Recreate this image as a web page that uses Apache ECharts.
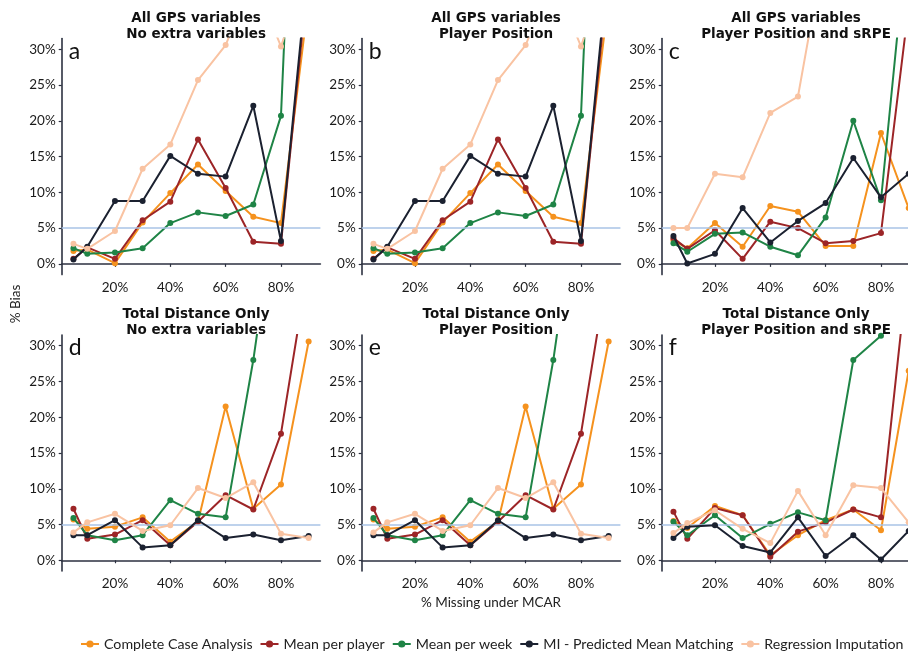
<!DOCTYPE html>
<html>
<head>
<meta charset="utf-8">
<script src="https://cdn.jsdelivr.net/npm/echarts@6/dist/echarts.min.js"></script>
<style>
  html, body { margin: 0; padding: 0; background: #fff; }
  #chart { width: 908px; height: 652px; }
</style>
</head>
<body>
<div id="chart"></div>
<script>
// Percentage of values removed (MCAR) and the method names
const missing = [5, 10, 20, 30, 40, 50, 60, 70, 80, 90];
const methods = ['Complete Case Analysis', 'Mean per player', 'Mean per week',
                 'MI - Predicted Mean Matching', 'Regression Imputation'];
const xTicks = [20, 40, 60, 80];
const yTicks = [0, 5, 10, 15, 20, 25, 30];
const biasThreshold = 5;

// a: All GPS variables, no extra variables
const aCCA        = [1.8, 2.0, 0.1, 5.8, 9.9, 13.9, 10.2, 6.6, 5.7, 37.0];
const aMeanPlayer = [0.7, 2.3, 0.7, 6.1, 8.7, 17.4, 10.6, 3.1, 2.8, 41.0];
const aMeanWeek   = [2.2, 1.4, 1.6, 2.2, 5.7, 7.2, 6.7, 8.3, 20.7, 110.0];
const aPMM        = [0.6, 2.4, 8.8, 8.8, 15.1, 12.6, 12.2, 22.1, 3.2, 42.5];
const aReg        = [2.8, 2.1, 4.6, 13.3, 16.7, 25.7, 30.6, 40.0, 30.4, 42.0];

// b: All GPS variables, player position
const bCCA        = [1.8, 2.0, 0.1, 5.8, 9.9, 13.9, 10.2, 6.6, 5.7, 37.0];
const bMeanPlayer = [0.7, 2.3, 0.7, 6.1, 8.7, 17.4, 10.6, 3.1, 2.8, 41.0];
const bMeanWeek   = [2.2, 1.4, 1.6, 2.2, 5.7, 7.2, 6.7, 8.3, 20.7, 110.0];
const bPMM        = [0.6, 2.4, 8.8, 8.8, 15.1, 12.6, 12.2, 22.1, 3.2, 42.5];
const bReg        = [2.8, 2.1, 4.6, 13.3, 16.7, 25.7, 30.6, 40.0, 30.4, 42.0];

// c: All GPS variables, player position and sRPE
const cCCA        = [3.3, 2.2, 5.7, 2.4, 8.1, 7.3, 2.5, 2.5, 18.3, 7.8];
const cMeanPlayer = [3.6, 2.1, 4.7, 0.7, 5.9, 5.0, 2.9, 3.2, 4.3, 36.0];
const cMeanWeek   = [2.9, 1.7, 4.2, 4.4, 2.4, 1.2, 6.5, 20.0, 8.9, 48.0];
const cPMM        = [3.9, 0.05, 1.4, 7.8, 3.0, 6.0, 8.5, 14.8, 9.3, 12.6];
const cReg        = [5.0, 5.0, 12.6, 12.1, 21.1, 23.4, 45.0, 50.0, 55.0, 60.0];

// d: Total distance only, no extra variables
const dCCA        = [5.7, 4.4, 4.7, 6.0, 2.6, 5.4, 21.5, 7.2, 10.6, 30.6];
const dMeanPlayer = [7.2, 3.0, 3.6, 5.6, 2.1, 5.4, 9.1, 7.1, 17.7, 41.5];
const dMeanWeek   = [5.9, 3.5, 2.8, 3.5, 8.4, 6.5, 6.0, 28.0, 55.0, 60.0];
const dPMM        = [3.5, 3.5, 5.6, 1.8, 2.1, 5.6, 3.1, 3.6, 2.8, 3.4];
const dReg        = [3.9, 5.3, 6.5, 4.1, 4.9, 10.1, 8.7, 10.9, 3.7, 3.1];

// e: Total distance only, player position
const eCCA        = [5.7, 4.4, 4.7, 6.0, 2.6, 5.4, 21.5, 7.2, 10.6, 30.6];
const eMeanPlayer = [7.2, 3.0, 3.6, 5.6, 2.1, 5.4, 9.1, 7.1, 17.7, 41.5];
const eMeanWeek   = [5.9, 3.5, 2.8, 3.5, 8.4, 6.5, 6.0, 28.0, 55.0, 60.0];
const ePMM        = [3.5, 3.5, 5.6, 1.8, 2.1, 5.6, 3.1, 3.6, 2.8, 3.4];
const eReg        = [3.9, 5.3, 6.5, 4.1, 4.9, 10.1, 8.7, 10.9, 3.7, 3.1];

// f: Total distance only, player position and sRPE
const fCCA        = [5.5, 4.5, 7.6, 6.3, 0.7, 3.5, 5.6, 7.1, 4.2, 26.5];
const fMeanPlayer = [6.8, 3.0, 7.3, 6.3, 0.5, 4.0, 5.3, 7.1, 6.0, 42.0];
const fMeanWeek   = [5.4, 3.5, 6.3, 3.1, 5.1, 6.7, 5.6, 28.0, 31.4, 40.0];
const fPMM        = [3.1, 4.7, 4.9, 2.0, 1.1, 6.0, 0.6, 3.5, 0.1, 4.1];
const fReg        = [3.8, 5.2, 7.0, 4.4, 2.4, 9.7, 3.5, 10.5, 10.1, 5.3];

const panels = [
  { letter: 'a', title: 'All GPS variables\nNo extra variables',        series: [aCCA, aMeanPlayer, aMeanWeek, aPMM, aReg] },
  { letter: 'b', title: 'All GPS variables\nPlayer Position',           series: [bCCA, bMeanPlayer, bMeanWeek, bPMM, bReg] },
  { letter: 'c', title: 'All GPS variables\nPlayer Position and sRPE',  series: [cCCA, cMeanPlayer, cMeanWeek, cPMM, cReg] },
  { letter: 'd', title: 'Total Distance Only\nNo extra variables',      series: [dCCA, dMeanPlayer, dMeanWeek, dPMM, dReg] },
  { letter: 'e', title: 'Total Distance Only\nPlayer Position',         series: [eCCA, eMeanPlayer, eMeanWeek, ePMM, eReg] },
  { letter: 'f', title: 'Total Distance Only\nPlayer Position and sRPE', series: [fCCA, fMeanPlayer, fMeanWeek, fPMM, fReg] }
];

const colors = ['#f5921e', '#9c2527', '#1f8446', '#1b2130', '#f9c3a2'];
const axisColor = '#2c3140';
const font = 'Lato, "Open Sans", sans-serif';

// Panel geometry (the right column runs past the canvas edge)
const colLeft = [61.7, 361.7, 661.7];
const rowTop = [38.6, 335];
const panelW = 258.7;
const panelH = 236;

const grids = [], xAxes = [], yAxes = [], series = [], titles = [], graphics = [];

panels.forEach((p, i) => {
  const col = i % 3, row = Math.floor(i / 3);
  const left = colLeft[col], top = rowTop[row];
  grids.push({ left: left, top: top, width: panelW, height: panelH, outerBoundsMode: 'none' });
  xAxes.push({
    type: 'value', gridIndex: i, min: 0.75, max: 94.25,
    axisLine: { show: true, lineStyle: { color: axisColor, width: 1.6 } },
    axisTick: { show: true, customValues: xTicks, length: 3, lineStyle: { color: axisColor, width: 1.2 } },
    axisLabel: { customValues: xTicks, formatter: v => v + '%', color: '#1a1a1a', fontSize: 13.5, fontFamily: font, margin: 6 },
    splitLine: { show: false }
  });
  yAxes.push({
    type: 'value', gridIndex: i, min: -1.5, max: 31.5,
    axisLine: { show: true, lineStyle: { color: axisColor, width: 1.6 } },
    axisTick: { show: true, customValues: yTicks, length: 3, lineStyle: { color: axisColor, width: 1.2 } },
    axisLabel: { customValues: yTicks, formatter: v => v + '%', color: '#1a1a1a', fontSize: 13.5, fontFamily: font, margin: 6 },
    splitLine: { show: false }
  });
  // 5% reference line
  series.push({
    type: 'line', xAxisIndex: i, yAxisIndex: i, data: [], silent: true, z: 1,
    markLine: {
      silent: true, symbol: 'none', animation: false,
      label: { show: false },
      lineStyle: { color: '#a9c3e6', type: 'solid', width: 1.7 },
      data: [{ yAxis: biasThreshold }]
    }
  });
  p.series.forEach((vals, k) => {
    series.push({
      name: methods[k], type: 'line', xAxisIndex: i, yAxisIndex: i, z: 2 + k,
      data: missing.map((m, j) => [m, vals[j]]),
      clip: true, symbol: 'circle', symbolSize: 6, showSymbol: true,
      itemStyle: { color: colors[k] },
      lineStyle: { color: colors[k], width: 2 },
      emphasis: { disabled: true }
    });
  });
  titles.push({
    text: p.title, left: left + panelW / 2, top: row === 0 ? 5 : 301, textAlign: 'center',
    textStyle: { fontFamily: '"DejaVu Sans", sans-serif', fontWeight: 'bold', fontSize: 13.5, lineHeight: 16, color: '#111' }
  });
  graphics.push({
    type: 'text', left: left + 7, top: top + 1,
    style: { text: p.letter, font: '23px ' + font, fill: '#111' }
  });
});

// Shared axis titles
graphics.push({
  type: 'text', x: 16, y: 304, rotation: Math.PI / 2,
  style: { text: '% Bias', font: '13.5px ' + font, fill: '#222', align: 'center', verticalAlign: 'middle' }
});
graphics.push({
  type: 'text', x: 491, y: 603,
  style: { text: '% Missing under MCAR', font: '13.5px ' + font, fill: '#222', align: 'center', verticalAlign: 'middle' }
});

const chart = echarts.init(document.getElementById('chart'), null, { renderer: 'canvas' });
chart.setOption({
  animation: false,
  title: titles,
  grid: grids,
  xAxis: xAxes,
  yAxis: yAxes,
  series: series,
  graphic: graphics,
  legend: {
    data: methods, left: 76, top: 632, width: 1200, itemGap: 8, itemWidth: 18, itemHeight: 10,
    icon: 'path://M2,4.2 L16,4.2 L16,5.8 L2,5.8 Z M9,2.2 A2.8,2.8 0 1,1 9,7.8 A2.8,2.8 0 1,1 9,2.2 Z',
    textStyle: { fontFamily: font, fontSize: 14.2, color: '#222' },
    selectedMode: false
  }
});
</script>
</body>
</html>
